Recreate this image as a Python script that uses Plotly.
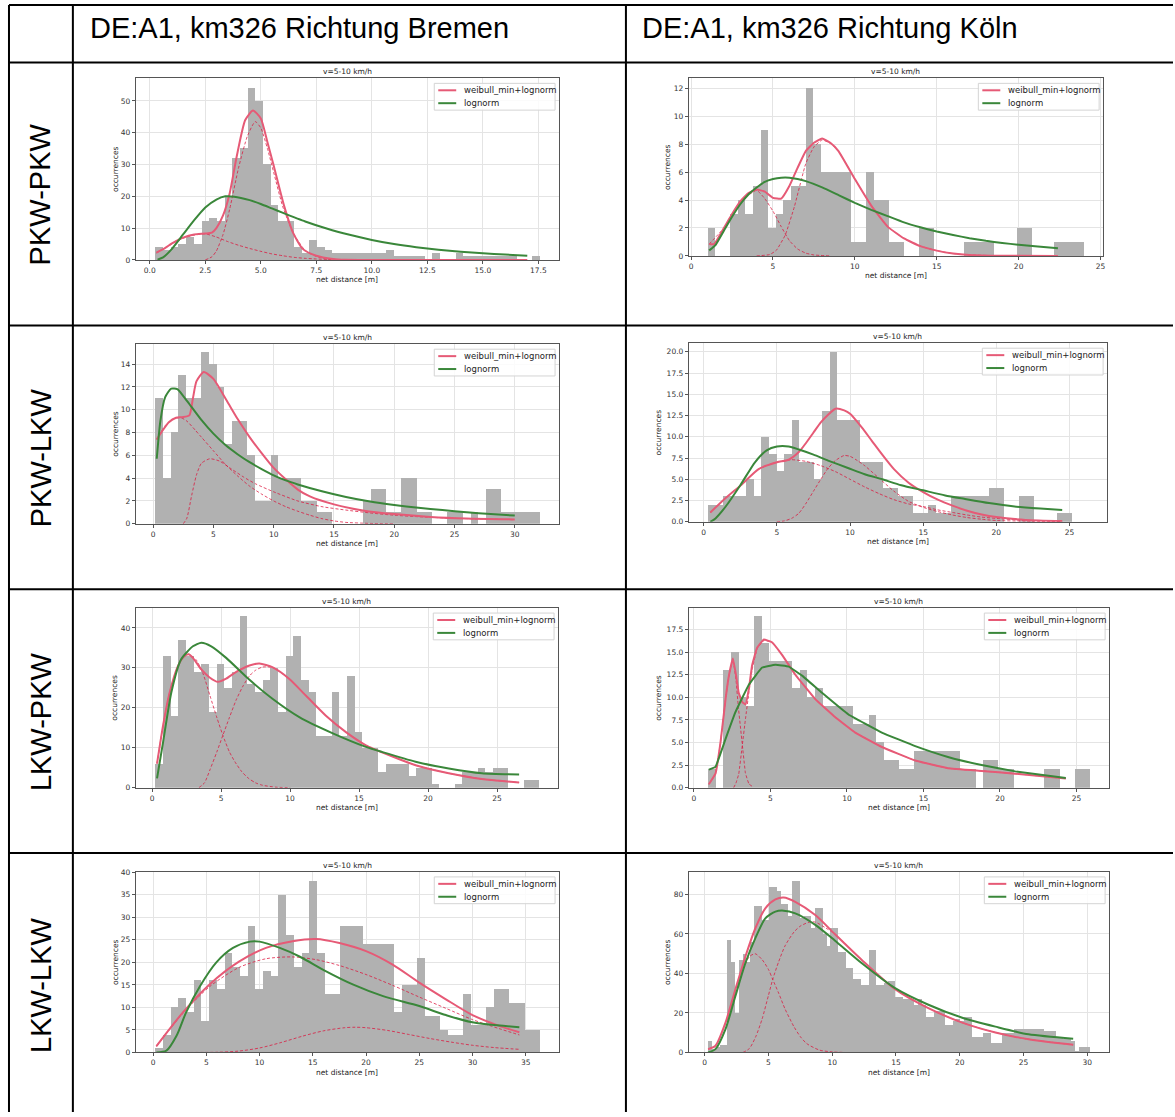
import plotly.graph_objects as go

FIG_W, FIG_H = 1175, 1117

# ---------------------------------------------------------------- texts
COL_HEADERS = ["DE:A1, km326 Richtung Bremen", "DE:A1, km326 Richtung Köln"]
ROW_LABELS = ["PKW-PKW", "PKW-LKW", "LKW-PKW", "LKW-LKW"]
PLOT_TITLE = "v=5-10 km/h"
X_TITLE = "net distance [m]"
Y_TITLE = "occurrences"
MIX_NAME = "weibull_min+lognorm"
LOGN_NAME = "lognorm"

# ---------------------------------------------------------------- PKW-PKW, Bremen
P1_BIN_LO, P1_BIN_W = 0.24, 0.3466
P1_COUNTS = [4, 3, 4, 5, 7, 5, 12, 13, 12, 20, 32, 35, 54, 50, 30, 17, 12, 12, 4, 2,
             6, 4, 3, 2, 2, 2, 2, 2, 2, 2, 3, 1, 1, 1, 1, 0, 2, 0, 0, 2,
             1, 1, 1, 1, 1, 1, 1, 0, 0, 1]
P1_MIX_X = [0.3, 0.7, 1.0, 1.5, 2.0, 2.5, 2.8, 3.0, 3.3, 3.6, 3.9, 4.3, 4.65, 5.0, 5.3,
            5.55, 6.05, 6.45, 6.9, 7.5, 8.25, 8.8, 10.0, 12.0, 14.0, 17.0]
P1_MIX_Y = [2.3, 3.8, 5.2, 7.0, 8.0, 8.3, 8.6, 10.0, 14.0, 21.0, 32.0, 44.0, 47.0, 44.5, 37.0,
            30.5, 17.0, 8.6, 3.4, 1.3, 0.3, 0.05, 0.0, 0.0, 0.0, 0.0]
P1_C1_X = [0.3, 1.0, 1.5, 2.0, 2.5, 3.0, 3.5, 4.0, 4.5, 5.0, 5.5, 6.0, 6.5, 7.0, 7.5, 8.0, 9.0]
P1_C1_Y = [2.2, 5.0, 6.8, 7.8, 8.2, 7.2, 5.8, 4.6, 3.6, 2.7, 1.9, 1.3, 0.8, 0.5, 0.3, 0.15, 0.0]
P1_C2_X = [2.5, 2.8, 3.0, 3.3, 3.6, 4.0, 4.4, 4.75, 5.0, 5.3, 5.6, 6.0, 6.5, 7.0, 7.5, 8.0, 9.0]
P1_C2_Y = [0.0, 1.0, 2.8, 8.0, 16.0, 29.0, 39.0, 43.5, 41.5, 35.0, 27.0, 16.5, 8.0, 3.0, 1.1, 0.3, 0.0]
P1_LOGN_X = [0.35, 0.6, 1.0, 1.5, 2.0, 2.5, 3.0, 3.4, 3.8, 4.5, 5.0, 5.5, 6.0, 7.0, 8.0,
             9.0, 10.0, 11.0, 12.0, 13.0, 14.0, 15.0, 16.0, 17.0]
P1_LOGN_Y = [0.1, 0.8, 3.5, 8.0, 12.5, 16.5, 19.0, 20.0, 19.9, 18.8, 17.6, 16.2, 14.8, 12.1, 9.8,
             7.9, 6.3, 5.0, 4.0, 3.2, 2.6, 2.1, 1.7, 1.3]

# ---------------------------------------------------------------- PKW-PKW, Köln
P2_BIN_LO, P2_BIN_W = 1.01, 0.46
P2_COUNTS = [2, 0, 0, 3, 4, 3, 5, 9, 2, 3, 4, 5, 5, 12, 8, 6, 6, 6, 6, 1,
             1, 6, 4, 4, 1, 1, 0, 0, 2, 2, 0, 0, 0, 0, 1, 1, 1, 1, 0, 0,
             0, 2, 2, 0, 0, 0, 1, 1, 1, 1]
P2_MIX_X = [1.1, 1.4, 2.0, 2.5, 3.0, 3.5, 4.0, 4.5, 5.0, 5.5, 6.0, 6.5, 7.0, 7.5, 8.0, 8.5,
            9.0, 10.0, 11.0, 12.0, 13.0, 14.0, 15.0, 16.0, 17.0, 19.0, 22.4]
P2_MIX_Y = [0.85, 0.85, 2.0, 3.0, 3.9, 4.5, 4.75, 4.6, 4.15, 4.1, 5.0, 6.3, 7.5, 8.1, 8.4, 8.1,
            7.5, 5.5, 3.6, 2.1, 1.25, 0.7, 0.38, 0.17, 0.07, 0.01, 0.0]
P2_C1_X = [1.1, 2.0, 3.0, 4.0, 4.5, 5.0, 5.5, 6.0, 6.5, 7.0, 7.5, 8.5]
P2_C1_Y = [0.85, 2.0, 3.9, 4.7, 4.1, 3.2, 2.1, 1.1, 0.5, 0.2, 0.07, 0.0]
P2_C2_X = [4.0, 4.8, 5.2, 5.75, 6.3, 7.0, 7.5, 8.0, 8.5, 9.0, 10.0, 11.0, 12.0, 13.0, 14.0,
           15.0, 16.0, 17.0, 19.0, 22.4]
P2_C2_Y = [0.0, 0.1, 0.4, 1.5, 3.5, 6.6, 7.8, 8.3, 8.05, 7.5, 5.5, 3.6, 2.1, 1.25, 0.7,
           0.38, 0.17, 0.07, 0.01, 0.0]
P2_LOGN_X = [1.1, 1.5, 2.0, 2.5, 3.0, 3.5, 4.0, 4.5, 5.0, 5.5, 6.0, 6.5, 7.0, 8.0, 9.0, 10.0,
             11.0, 12.0, 13.0, 14.0, 15.0, 16.0, 17.0, 18.0, 19.0, 20.0, 21.0, 22.4]
P2_LOGN_Y = [0.4, 0.8, 1.8, 2.8, 3.7, 4.4, 4.9, 5.3, 5.5, 5.6, 5.6, 5.5, 5.35, 4.9, 4.35, 3.8,
             3.3, 2.85, 2.4, 2.05, 1.75, 1.5, 1.27, 1.08, 0.93, 0.8, 0.69, 0.55]

# ---------------------------------------------------------------- PKW-LKW, Bremen
P3_BIN_LO, P3_BIN_W = 0.15, 0.638
P3_COUNTS = [11, 4, 8, 13, 11, 11, 15, 14, 12, 7, 9, 9, 6, 2, 2, 6, 4, 4, 4, 2,
             2, 1, 1, 0, 0, 0, 0, 2, 3, 3, 1, 1, 4, 4, 1, 1, 0, 0, 1, 1,
             0, 1, 0, 3, 3, 1, 1, 1, 1, 1]
P3_MIX_X = [0.3, 0.8, 1.3, 1.9, 2.4, 3.0, 3.3, 3.6, 4.2, 5.0, 6.1, 7.0, 8.0, 9.0, 10.0,
            11.0, 12.0, 13.0, 15.0, 17.5, 20.0, 23.0, 26.0, 30.0]
P3_MIX_Y = [7.4, 8.2, 8.9, 9.3, 9.35, 9.5, 11.0, 12.5, 13.3, 12.7, 10.8, 9.2, 7.6, 6.2, 4.9,
            3.9, 3.0, 2.4, 1.7, 1.15, 0.85, 0.6, 0.46, 0.38]
P3_C1_X = [0.3, 1.0, 1.7, 2.3, 2.8, 3.5, 4.0, 5.0, 6.0, 7.0, 8.0, 9.0, 10.0, 11.0, 12.0,
           13.0, 14.0, 15.0, 16.0, 18.0, 20.0]
P3_C1_Y = [7.4, 8.6, 9.2, 9.3, 9.0, 8.2, 7.6, 6.4, 5.2, 4.2, 3.3, 2.6, 2.0, 1.5, 1.1,
           0.75, 0.45, 0.25, 0.12, 0.03, 0.0]
P3_C2_X = [2.5, 2.8, 3.2, 3.6, 4.0, 4.7, 5.5, 6.5, 7.5, 8.5, 10.0, 12.0, 14.0, 16.0, 18.0,
           20.0, 22.0, 25.0, 30.0]
P3_C2_Y = [0.0, 0.5, 2.5, 4.3, 5.3, 5.7, 5.5, 4.8, 4.1, 3.5, 2.8, 2.0, 1.5, 1.2, 0.95,
           0.75, 0.62, 0.48, 0.36]
P3_LOGN_X = [0.3, 0.6, 1.0, 1.5, 2.0, 2.5, 3.0, 4.0, 5.0, 6.0, 7.0, 8.0, 9.0, 10.0, 11.0,
             12.0, 14.0, 16.0, 18.0, 20.0, 22.0, 24.0, 26.0, 28.0, 30.0]
P3_LOGN_Y = [5.7, 9.0, 11.1, 11.85, 11.8, 11.2, 10.5, 9.1, 7.9, 6.9, 6.1, 5.4, 4.8, 4.25, 3.8,
             3.45, 2.85, 2.35, 1.95, 1.65, 1.4, 1.2, 1.0, 0.85, 0.72]

# ---------------------------------------------------------------- PKW-LKW, Köln
P4_BIN_LO, P4_BIN_W = 0.30, 0.518
P4_COUNTS = [2, 2, 3, 3, 3, 5, 3, 10, 8, 6, 8, 12, 7, 7, 5, 13, 20, 12, 12, 12,
             7, 7, 7, 4, 4, 3, 3, 1, 1, 2, 1, 1, 3, 3, 3, 3, 3, 4, 4, 0,
             0, 3, 3, 0, 0, 0, 1, 1]
P4_MIX_X = [0.45, 1.5, 2.6, 3.75, 5.0, 5.8, 6.5, 7.0, 7.5, 8.0, 8.5, 9.0, 9.6, 10.0, 10.8,
            11.5, 12.2, 13.0, 14.0, 15.0, 16.0, 17.0, 18.0, 19.0, 20.0, 22.0, 24.5]
P4_MIX_Y = [1.1, 2.8, 4.4, 6.2, 7.0, 7.3, 8.2, 9.3, 10.5, 11.7, 12.6, 13.3, 13.1, 12.7, 11.1,
            9.5, 7.9, 6.2, 4.6, 3.5, 2.6, 1.9, 1.3, 0.85, 0.55, 0.22, 0.08]
P4_C1_X = [0.45, 1.5, 2.6, 3.75, 5.0, 6.0, 7.0, 8.0, 9.0, 10.0, 11.0, 12.0, 13.0, 14.0,
           15.0, 16.0, 17.0, 18.0, 19.0, 20.0, 22.0, 24.5]
P4_C1_Y = [1.1, 2.8, 4.4, 6.2, 7.0, 7.3, 7.1, 6.6, 5.9, 5.0, 4.1, 3.3, 2.6, 2.1,
           1.8, 1.4, 1.1, 0.8, 0.55, 0.4, 0.15, 0.05]
P4_C2_X = [5.0, 5.5, 6.0, 6.5, 7.0, 7.5, 8.0, 8.5, 9.0, 9.6, 10.0, 10.5, 11.0, 12.0, 13.0,
           14.0, 15.0, 16.0, 17.0, 18.0, 19.0, 20.0, 22.0, 24.5]
P4_C2_Y = [0.0, 0.1, 0.4, 1.0, 2.2, 3.6, 5.0, 6.3, 7.2, 7.8, 7.7, 7.2, 6.6, 5.1, 3.6,
           2.4, 1.7, 1.2, 0.8, 0.5, 0.3, 0.15, 0.07, 0.03]
P4_LOGN_X = [0.45, 0.8, 1.5, 2.5, 3.5, 4.3, 5.0, 5.8, 6.5, 7.5, 8.5, 9.9, 11.0, 12.2, 13.5,
             15.0, 16.5, 17.8, 19.5, 21.25, 23.0, 24.5]
P4_LOGN_Y = [0.0, 0.4, 1.8, 4.3, 7.0, 8.4, 8.85, 8.85, 8.5, 7.9, 7.2, 6.3, 5.6, 5.0, 4.3,
             3.7, 3.1, 2.7, 2.2, 1.8, 1.55, 1.38]

# ---------------------------------------------------------------- LKW-PKW, Bremen
P5_BIN_LO, P5_BIN_W = 0.22, 0.556
P5_COUNTS = [6, 33, 18, 37, 33, 29, 31, 19, 31, 25, 29, 43, 26, 24, 27, 30, 19, 33, 38, 27,
             24, 13, 13, 24, 13, 28, 14, 10, 10, 4, 6, 6, 6, 3, 5, 5, 1, 0, 0, 1,
             4, 4, 5, 4, 5, 5, 0, 0, 2, 2]
P5_MIX_X = [0.36, 0.8, 1.28, 1.88, 2.3, 2.65, 2.96, 3.57, 4.17, 4.77, 5.37, 6.1, 7.06, 7.78,
            8.75, 9.95, 11.16, 12.6, 14.05, 15.5, 17.2, 19.1, 21.5, 23.9, 26.6]
P5_MIX_Y = [6.0, 15.6, 23.9, 30.5, 32.8, 33.4, 32.5, 29.6, 27.6, 26.5, 27.3, 29.0, 30.6, 31.1,
            30.1, 27.2, 23.0, 18.0, 13.9, 10.6, 8.1, 5.6, 3.6, 2.15, 1.3]
P5_C1_X = [0.36, 0.8, 1.28, 1.88, 2.3, 2.65, 3.2, 3.7, 4.2, 4.7, 5.13, 5.6, 6.0, 6.5, 7.0,
           7.5, 8.0, 9.0, 10.0]
P5_C1_Y = [6.0, 15.6, 23.9, 30.5, 32.8, 33.4, 32.0, 28.5, 23.0, 17.5, 13.1, 9.0, 6.5, 4.0, 2.3,
           1.2, 0.6, 0.1, 0.0]
P5_C2_X = [3.4, 3.8, 4.2, 4.7, 5.13, 5.6, 6.1, 6.6, 7.06, 7.5, 8.0, 8.75, 9.95, 11.16, 12.6,
           14.05, 15.5, 17.2, 19.1, 21.5, 23.9, 26.6]
P5_C2_Y = [0.0, 1.2, 4.5, 9.0, 13.1, 17.5, 22.0, 25.5, 28.0, 29.4, 30.2, 30.1, 27.2, 23.0, 18.0,
           13.9, 10.6, 8.1, 5.6, 3.6, 2.15, 1.3]
P5_LOGN_X = [0.36, 0.8, 1.4, 2.1, 2.96, 3.57, 4.29, 5.37, 7.06, 8.75, 10.7, 13.1, 15.5, 16.7,
             19.1, 21.5, 23.9, 26.6]
P5_LOGN_Y = [2.3, 11.4, 23.9, 32.1, 35.4, 36.3, 35.4, 32.5, 27.0, 22.2, 17.6, 13.6, 10.2, 8.9,
             6.5, 4.8, 3.6, 3.3]

# ---------------------------------------------------------------- LKW-PKW, Köln
P6_BIN_LO, P6_BIN_W = 0.92, 0.4992
P6_COUNTS = [2, 0, 13, 15, 10, 9, 19, 16, 14, 14, 14, 11, 13, 10, 11, 9, 9, 9, 9, 7,
             7, 8, 5, 3, 3, 2, 2, 4, 4, 4, 4, 4, 4, 2, 2, 0, 3, 3, 2, 2,
             0, 0, 0, 0, 2, 2, 0, 0, 2, 2]
P6_MIX_X = [0.98, 1.41, 1.74, 2.07, 2.3, 2.55, 2.75, 2.93, 3.15, 3.37, 3.6, 3.8, 4.13, 4.57,
            5.1, 5.76, 6.63, 7.93, 9.24, 10.54, 12.28, 14.46, 16.6, 18.8, 21.0, 24.3]
P6_MIX_Y = [0.37, 1.54, 5.0, 9.8, 12.5, 14.3, 12.5, 10.5, 9.5, 9.2, 11.0, 13.5, 15.5, 16.4,
            16.1, 14.7, 12.5, 9.8, 7.8, 6.1, 4.5, 3.0, 2.15, 1.85, 1.55, 1.0]
P6_C1_X = [0.98, 1.41, 1.74, 2.07, 2.3, 2.55, 2.75, 2.9, 3.15, 3.37, 3.6, 3.9]
P6_C1_Y = [0.37, 1.54, 5.0, 9.8, 12.5, 14.2, 12.0, 9.0, 5.0, 1.6, 0.4, 0.05]
P6_C2_X = [2.6, 2.75, 2.93, 3.15, 3.37, 3.6, 3.8, 4.13, 4.57, 5.1, 5.76, 6.63, 7.93, 9.24,
           10.54, 12.28, 14.46, 16.6, 18.8, 21.0, 24.3]
P6_C2_Y = [0.0, 0.5, 1.5, 4.5, 7.6, 10.6, 13.0, 15.4, 16.3, 16.1, 14.7, 12.5, 9.8, 7.8,
           6.1, 4.5, 3.0, 2.15, 1.85, 1.55, 1.0]
P6_LOGN_X = [0.98, 1.41, 2.07, 2.7, 3.59, 4.46, 5.33, 6.2, 7.07, 8.37, 10.1, 12.28, 14.46,
             16.6, 18.8, 21.0, 24.3]
P6_LOGN_Y = [2.0, 2.3, 5.4, 8.3, 11.4, 13.3, 13.6, 13.4, 12.4, 10.5, 8.1, 6.1, 4.6,
             3.4, 2.5, 1.8, 1.06]

# ---------------------------------------------------------------- LKW-LKW, Bremen
P7_BIN_LO, P7_BIN_W = 0.18, 0.723
P7_COUNTS = [1, 4, 10, 12, 9, 16, 7, 16, 14, 22, 19, 17, 28, 14, 18, 17, 35, 26, 19, 22,
             38, 22, 13, 13, 28, 28, 28, 24, 24, 24, 24, 9, 15, 15, 21, 8, 8, 5, 4, 4,
             13, 6, 6, 10, 14, 14, 11, 11, 5, 5]
P7_MIX_X = [0.31, 2.8, 5.3, 8.1, 10.6, 13.1, 15.3, 17.5, 20.0, 22.5, 25.0, 27.5, 30.0, 32.5, 34.4]
P7_MIX_Y = [1.4, 8.9, 15.1, 20.2, 23.2, 24.7, 25.2, 24.3, 22.5, 19.5, 15.5, 11.8, 8.3, 5.9, 4.5]
P7_C1_X = [0.31, 2.8, 5.3, 8.1, 10.6, 13.1, 15.3, 17.5, 20.0, 22.5, 25.0, 27.5, 30.0, 32.5, 34.4]
P7_C1_Y = [1.3, 8.7, 14.6, 18.9, 20.8, 21.2, 20.6, 19.3, 17.3, 14.9, 12.3, 9.8, 7.3, 5.3, 3.9]
P7_C2_X = [3.0, 6.0, 8.0, 10.0, 12.0, 14.0, 16.0, 18.0, 19.0, 20.0, 22.0, 24.0, 26.0, 28.0,
           30.0, 32.0, 34.4]
P7_C2_Y = [0.0, 0.05, 0.3, 1.0, 2.2, 3.6, 4.8, 5.5, 5.6, 5.5, 4.9, 4.0, 3.1, 2.3,
           1.6, 1.1, 0.7]
P7_LOGN_X = [0.31, 1.25, 2.2, 3.1, 4.4, 5.9, 7.5, 9.1, 10.0, 11.9, 13.75, 16.25, 18.75, 21.6,
             25.0, 27.5, 30.0, 34.4]
P7_LOGN_Y = [0.0, 0.4, 3.7, 8.9, 14.7, 19.9, 23.2, 24.6, 24.6, 23.2, 21.3, 18.0, 15.1, 12.5,
             10.3, 8.3, 6.7, 5.6]

# ---------------------------------------------------------------- LKW-LKW, Köln
P8_BIN_LO, P8_BIN_W = 0.25, 0.2997
P8_COUNTS = [6, 2, 3, 4, 4, 57, 46, 20, 47, 50, 46, 56, 74, 74, 67, 67, 84, 84, 82, 75,
             75, 69, 87, 87, 68, 69, 69, 63, 73, 73, 60, 54, 63, 63, 51, 51, 43, 43, 37, 37,
             34, 34, 52, 52, 34, 34, 35, 36, 36, 28, 28, 27, 27, 27, 24, 27, 24, 18, 18, 21,
             21, 21, 14, 14, 16, 17, 16, 18, 18, 8, 8, 8, 10, 10, 5, 5, 5, 10, 10, 10,
             12, 12, 12, 12, 12, 12, 12, 12, 11, 11, 11, 8, 8, 7, 7, 6, 1, 3, 3, 3]
P8_MIX_X = [0.26, 0.84, 1.62, 2.4, 3.19, 3.97, 4.75, 5.54, 6.19, 7.1, 8.67, 10.2, 12.3, 14.9,
            17.5, 20.2, 22.8, 25.4, 28.9]
P8_MIX_Y = [1.7, 3.4, 15.0, 31.9, 48.6, 62.9, 73.0, 77.5, 78.5, 76.3, 69.6, 60.0, 47.0, 32.2,
            22.6, 15.1, 10.1, 6.7, 3.9]
P8_C1_X = [0.26, 0.84, 1.62, 2.4, 3.0, 3.5, 3.95, 4.5, 5.0, 5.33, 5.8, 6.3, 7.0, 7.5, 8.0,
           9.0, 10.0, 11.0]
P8_C1_Y = [1.7, 3.4, 14.5, 30.0, 42.0, 48.5, 50.0, 47.0, 42.0, 37.0, 30.0, 22.0, 13.0, 8.0, 4.5,
           1.2, 0.3, 0.0]
P8_C2_X = [3.0, 3.5, 4.0, 4.5, 5.0, 5.33, 5.8, 6.3, 7.0, 7.5, 8.2, 8.67, 9.5, 10.2, 12.3,
           14.9, 17.5, 20.2, 22.8, 25.4, 28.9]
P8_C2_Y = [0.0, 2.0, 8.0, 17.0, 29.0, 37.0, 46.0, 54.0, 61.0, 64.0, 66.0, 66.0, 63.0, 60.0, 47.0,
           32.2, 22.6, 15.1, 10.1, 6.7, 3.9]
P8_LOGN_X = [0.26, 0.84, 1.62, 2.4, 3.19, 3.97, 4.75, 5.54, 6.19, 7.1, 8.67, 10.2, 12.3, 14.9,
             17.5, 20.2, 22.8, 25.4, 28.9]
P8_LOGN_Y = [0.0, 1.7, 11.7, 28.5, 45.3, 57.9, 67.9, 71.3, 71.8, 70.4, 64.6, 56.7, 45.3, 32.7,
             24.3, 17.6, 13.1, 9.2, 7.0]

# ---------------------------------------------------------------- styles
FONT = "DejaVu Sans"
HEAD_FONT = "Liberation Sans, Arial, sans-serif"
BAR_COLOR = "#b1b1b1"
MIX_COLOR = "#e65a76"
COMP_COLOR = "rgba(220,20,60,0.95)"
LOGN_COLOR = "#3a873a"
FRAME_COLOR = "#555555"
GRID_COLOR = "#e4e4e4"
TICK_SIZE = 7.5

# table grid (pixels)
TABLE_X = [9, 73, 627]
TABLE_Y = [1, 59, 324, 590, 856]
ROW_CENTERS = [192, 457, 723, 989]

# each panel: pixel box (left, top, right, bottom), axis ranges, tick spacing,
# offset of the y title from the frame and curve smoothing
PANELS = [
    dict(box=(136, 75, 560, 258), xr=(-0.63, 18.43), yr=(0, 57.1), dx=2.5, dy=10, xf=".1f", yf="", yt=21, sm=0.6,
         lo=P1_BIN_LO, w=P1_BIN_W, counts=P1_COUNTS,
         mix=(P1_MIX_X, P1_MIX_Y), c1=(P1_C1_X, P1_C1_Y), c2=(P1_C2_X, P1_C2_Y), logn=(P1_LOGN_X, P1_LOGN_Y)),
    dict(box=(690, 75, 1105, 254), xr=(-0.14, 25.16), yr=(0, 12.7), dx=5, dy=2, xf="", yf="", yt=22, sm=0.4,
         lo=P2_BIN_LO, w=P2_BIN_W, counts=P2_COUNTS,
         mix=(P2_MIX_X, P2_MIX_Y), c1=(P2_C1_X, P2_C1_Y), c2=(P2_C2_X, P2_C2_Y), logn=(P2_LOGN_X, P2_LOGN_Y)),
    dict(box=(136, 343, 560, 524), xr=(-1.44, 33.67), yr=(0, 15.74), dx=5, dy=2, xf="", yf="", yt=21, sm=0.6,
         lo=P3_BIN_LO, w=P3_BIN_W, counts=P3_COUNTS,
         mix=(P3_MIX_X, P3_MIX_Y), c1=(P3_C1_X, P3_C1_Y), c2=(P3_C2_X, P3_C2_Y), logn=(P3_LOGN_X, P3_LOGN_Y)),
    dict(box=(690, 342, 1109, 522), xr=(-1.02, 27.57), yr=(0, 21.0), dx=5, dy=2.5, xf="", yf=".1f", yt=30, sm=0.6,
         lo=P4_BIN_LO, w=P4_BIN_W, counts=P4_COUNTS,
         mix=(P4_MIX_X, P4_MIX_Y), c1=(P4_C1_X, P4_C1_Y), c2=(P4_C2_X, P4_C2_Y), logn=(P4_LOGN_X, P4_LOGN_Y)),
    dict(box=(136, 609, 559, 790), xr=(-1.18, 29.42), yr=(0, 44.97), dx=5, dy=10, xf="", yf="", yt=21, sm=0.6,
         lo=P5_BIN_LO, w=P5_BIN_W, counts=P5_COUNTS,
         mix=(P5_MIX_X, P5_MIX_Y), c1=(P5_C1_X, P5_C1_Y), c2=(P5_C2_X, P5_C2_Y), logn=(P5_LOGN_X, P5_LOGN_Y)),
    dict(box=(690, 609, 1111, 790), xr=(-0.33, 27.13), yr=(0, 19.88), dx=5, dy=2.5, xf="", yf=".1f", yt=30, sm=0.25,
         lo=P6_BIN_LO, w=P6_BIN_W, counts=P6_COUNTS,
         mix=(P6_MIX_X, P6_MIX_Y), c1=(P6_C1_X, P6_C1_Y), c2=(P6_C2_X, P6_C2_Y), logn=(P6_LOGN_X, P6_LOGN_Y)),
    dict(box=(136, 875, 560, 1057), xr=(-1.63, 38.13), yr=(0, 40.06), dx=5, dy=5, xf="", yf="", yt=21, sm=0.8,
         lo=P7_BIN_LO, w=P7_BIN_W, counts=P7_COUNTS,
         mix=(P7_MIX_X, P7_MIX_Y), c1=(P7_C1_X, P7_C1_Y), c2=(P7_C2_X, P7_C2_Y), logn=(P7_LOGN_X, P7_LOGN_Y)),
    dict(box=(690, 875, 1111, 1057), xr=(-1.25, 31.72), yr=(0, 91.4), dx=5, dy=20, xf="", yf="", yt=22, sm=0.7,
         lo=P8_BIN_LO, w=P8_BIN_W, counts=P8_COUNTS,
         mix=(P8_MIX_X, P8_MIX_Y), c1=(P8_C1_X, P8_C1_Y), c2=(P8_C2_X, P8_C2_Y), logn=(P8_LOGN_X, P8_LOGN_Y)),
]


def fx(px):
    return px / FIG_W


def fy(py):
    return 1 - py / FIG_H


fig = go.Figure()
shapes, annotations = [], []
layout = {}

for i, p in enumerate(PANELS, start=1):
    xa, ya = ("x", "y") if i == 1 else (f"x{i}", f"y{i}")
    l, t, r, b = p["box"]
    sm = p["sm"]
    centers = [p["lo"] + p["w"] * (k + 0.5) for k in range(len(p["counts"]))]

    fig.add_trace(go.Bar(x=centers, y=p["counts"], width=p["w"], marker=dict(color=BAR_COLOR, line=dict(width=0)),
                         xaxis=xa, yaxis=ya, showlegend=False, hoverinfo="skip"))
    for comp in (p["c1"], p["c2"]):
        fig.add_trace(go.Scatter(x=comp[0], y=comp[1], mode="lines", xaxis=xa, yaxis=ya, showlegend=False,
                                 line=dict(color=COMP_COLOR, width=0.8, dash="3px,2px", shape="spline", smoothing=sm)))
    fig.add_trace(go.Scatter(x=p["mix"][0], y=p["mix"][1], mode="lines", name=MIX_NAME, xaxis=xa, yaxis=ya,
                             showlegend=False, line=dict(color=MIX_COLOR, width=2, shape="spline", smoothing=sm)))
    fig.add_trace(go.Scatter(x=p["logn"][0], y=p["logn"][1], mode="lines", name=LOGN_NAME, xaxis=xa, yaxis=ya,
                             showlegend=False, line=dict(color=LOGN_COLOR, width=2, shape="spline", smoothing=sm)))

    axis_common = dict(showline=True, mirror=True, linecolor=FRAME_COLOR, linewidth=1,
                       showgrid=True, gridcolor=GRID_COLOR, gridwidth=0.8, zeroline=False,
                       ticks="outside", ticklen=3, tickwidth=0.8, tickcolor=FRAME_COLOR,
                       tickfont=dict(family=FONT, size=TICK_SIZE, color="#333333"))
    layout["xaxis" if i == 1 else f"xaxis{i}"] = dict(
        axis_common, domain=[fx(l), fx(r)], range=list(p["xr"]), anchor=ya,
        tick0=0, dtick=p["dx"], tickformat=p["xf"])
    layout["yaxis" if i == 1 else f"yaxis{i}"] = dict(
        axis_common, domain=[fy(b), fy(t)], range=list(p["yr"]), anchor=xa,
        tick0=0, dtick=p["dy"], tickformat=p["yf"])

    cx = (l + r) / 2
    annotations.append(dict(text=PLOT_TITLE, x=fx(cx), y=fy(t - 7), xref="paper", yref="paper",
                            showarrow=False, xanchor="center", yanchor="middle",
                            font=dict(family=FONT, size=7.5, color="#222222")))
    annotations.append(dict(text=X_TITLE, x=fx(cx), y=fy(b + 20), xref="paper", yref="paper",
                            showarrow=False, xanchor="center", yanchor="middle",
                            font=dict(family=FONT, size=7.5, color="#222222")))
    annotations.append(dict(text=Y_TITLE, x=fx(l - p["yt"]), y=fy((t + b) / 2), xref="paper", yref="paper",
                            showarrow=False, xanchor="center", yanchor="middle", textangle=-90,
                            font=dict(family=FONT, size=7.5, color="#222222")))

    # legend box in the upper-right corner of each panel
    lr, lt = r - 4, t + 5
    ll, lb = lr - 121, lt + 27
    shapes.append(dict(type="rect", xref="paper", yref="paper", x0=fx(ll), x1=fx(lr), y0=fy(lb), y1=fy(lt),
                       line=dict(color="#d4d4d4", width=1), fillcolor="rgba(255,255,255,0.85)", layer="above"))
    for row, (name, color) in enumerate([(MIX_NAME, MIX_COLOR), (LOGN_NAME, LOGN_COLOR)]):
        yy = lt + 7 + row * 13
        shapes.append(dict(type="line", xref="paper", yref="paper", x0=fx(ll + 4), x1=fx(ll + 22),
                           y0=fy(yy), y1=fy(yy), line=dict(color=color, width=2), layer="above"))
        annotations.append(dict(text=name, x=fx(ll + 28), y=fy(yy), xref="paper", yref="paper",
                                showarrow=False, xanchor="left", yanchor="middle",
                                font=dict(family=FONT, size=8.5, color="#222222")))

# table rules
for xpx in TABLE_X:
    shapes.append(dict(type="line", xref="paper", yref="paper", x0=fx(xpx), x1=fx(xpx), y0=fy(TABLE_Y[0]), y1=0,
                       line=dict(color="black", width=2), layer="above"))
for ypx in TABLE_Y:
    shapes.append(dict(type="line", xref="paper", yref="paper", x0=fx(TABLE_X[0]), x1=1, y0=fy(ypx), y1=fy(ypx),
                       line=dict(color="black", width=2), layer="above"))

# column headers and row labels
for xpx, txt in zip([88, 641], COL_HEADERS):
    annotations.append(dict(text=txt, x=fx(xpx), y=fy(24), xref="paper", yref="paper", showarrow=False,
                            xanchor="left", yanchor="middle", font=dict(family=HEAD_FONT, size=29, color="black")))
for ypx, txt in zip(ROW_CENTERS, ROW_LABELS):
    annotations.append(dict(text=txt, x=fx(41), y=fy(ypx), xref="paper", yref="paper", showarrow=False,
                            xanchor="center", yanchor="middle", textangle=-90,
                            font=dict(family=HEAD_FONT, size=29, color="black")))

fig.update_layout(width=FIG_W, height=FIG_H, margin=dict(l=0, r=0, t=0, b=0),
                  paper_bgcolor="white", plot_bgcolor="white", showlegend=False,
                  shapes=shapes, annotations=annotations, bargap=0, **layout)

fig.write_html("out.html", config={"displayModeBar": False})
